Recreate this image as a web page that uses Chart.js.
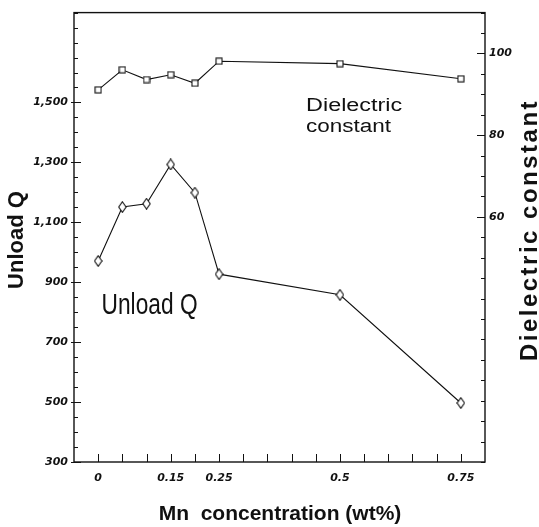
<!DOCTYPE html>
<html lang="en">
<head>
<meta charset="UTF-8">
<title>Unload Q and dielectric constant vs Mn concentration</title>
<script src="https://cdn.jsdelivr.net/npm/chart.js"></script>
<style>
  html, body { margin: 0; padding: 0; background: #fff; }
  #wrap { width: 539px; height: 527px; }
</style>
</head>
<body>
<div id="wrap"><canvas id="grafica" width="539" height="527"></canvas></div>
<script>
// data
const mnConc = [0, 0.05, 0.1, 0.15, 0.2, 0.25, 0.5, 0.75];          // wt%
const unloadQ = [971, 1151, 1162, 1293, 1199, 927, 858, 497];
const dielectric = [91.1, 96.0, 93.6, 94.8, 92.7, 98.1, 97.5, 93.8];

// tick labels that are printed
const xLabels = [0, 0.15, 0.25, 0.5, 0.75];
const qLabels = [300, 500, 700, 900, 1100, 1300, 1500];
const kLabels = [60, 80, 100];

// small marker images (hollow square / tall diamond)
function makeMarker(w, h, draw) {
  const c = document.createElement('canvas');
  c.width = w; c.height = h;
  const g = c.getContext('2d');
  g.fillStyle = '#fff'; g.strokeStyle = '#111'; g.lineWidth = 1.1;
  draw(g, w, h);
  return c;
}
const squareMark = makeMarker(8, 8, g => { g.fillRect(1, 1, 6, 6); g.strokeRect(1, 1, 6, 6); });
const diamondMark = makeMarker(9, 12, g => {
  g.beginPath(); g.moveTo(4.5, 0.7); g.lineTo(8.2, 6); g.lineTo(4.5, 11.3); g.lineTo(0.8, 6); g.closePath();
  g.fill(); g.stroke();
});

function stepTicks(from, to, step, dec) {
  const out = [];
  for (let v = from; v <= to + 1e-9; v += step) out.push({ value: +v.toFixed(dec) });
  return out;
}

const tickFont = { family: 'DejaVu Sans', size: 11, style: 'italic', weight: 'bold' };

// frame + inward tick marks
const frameTicks = {
  id: 'frameTicks',
  afterDraw(chart) {
    const ctx = chart.ctx, a = chart.chartArea;
    const sx = chart.scales.x, sq = chart.scales.y, sk = chart.scales.y2;
    ctx.save();
    ctx.strokeStyle = '#111';
    ctx.lineWidth = 1.4;
    ctx.strokeRect(a.left, a.top, a.right - a.left, a.bottom - a.top);
    ctx.lineWidth = 1;
    ctx.beginPath();
    sx.ticks.forEach(t => {
      const px = Math.round(sx.getPixelForValue(t.value)) + 0.5;
      ctx.moveTo(px, a.bottom); ctx.lineTo(px, a.bottom - 8);
    });
    sq.ticks.forEach(t => {
      const py = Math.round(sq.getPixelForValue(t.value)) + 0.5;
      const major = qLabels.includes(t.value);
      ctx.moveTo(a.left - (major ? 3 : 0), py); ctx.lineTo(a.left + (major ? 7 : 4), py);
    });
    sk.ticks.forEach(t => {
      const py = Math.round(sk.getPixelForValue(t.value)) + 0.5;
      const major = kLabels.includes(t.value);
      ctx.moveTo(a.right, py); ctx.lineTo(a.right - (major ? 8 : 4), py);
    });
    ctx.stroke();
    ctx.restore();
  }
};

// axis titles and in-plot labels
function stretchText(ctx, text, x, y, width) {
  const w = ctx.measureText(text).width;
  ctx.save();
  ctx.translate(x, y);
  ctx.scale(width / w, 1);
  ctx.fillText(text, 0, 0);
  ctx.restore();
}

const titles = {
  id: 'titles',
  afterDraw(chart) {
    const ctx = chart.ctx;
    const sx = chart.scales.x, sq = chart.scales.y, sk = chart.scales.y2;
    ctx.save();
    ctx.fillStyle = '#111';
    ctx.textBaseline = 'middle';

    ctx.textAlign = 'center';
    ctx.font = 'bold 21px "Liberation Sans"';
    ctx.fillText('Mn  concentration (wt%)', 280, 514);

    ctx.save();
    ctx.translate(17, 240);
    ctx.rotate(-Math.PI / 2);
    ctx.font = 'bold 22px "Liberation Sans"';
    ctx.fillText('Unload Q', 0, 0);
    ctx.restore();

    ctx.save();
    ctx.translate(530, 230);
    ctx.rotate(-Math.PI / 2);
    ctx.font = 'bold 24px "Liberation Sans"';
    ctx.letterSpacing = '2.5px';
    ctx.fillText('Dielectric constant', 0, 0);
    ctx.restore();

    // labels inside the plot, anchored on the scales
    ctx.textAlign = 'left';
    ctx.font = '29px "Liberation Sans"';
    stretchText(ctx, 'Unload Q', sx.getPixelForValue(0.007), sq.getPixelForValue(820), 96);

    ctx.font = '18px "Liberation Sans"';
    stretchText(ctx, 'Dielectric', sx.getPixelForValue(0.43), sk.getPixelForValue(87.2), 96);
    stretchText(ctx, 'constant', sx.getPixelForValue(0.43), sk.getPixelForValue(82.1), 85);
    ctx.restore();
  }
};

const ctx = document.getElementById('grafica').getContext('2d');
new Chart(ctx, {
  type: 'line',
  data: {
    datasets: [{
      label: 'Dielectric constant',
      data: mnConc.map((x, i) => ({ x: x, y: dielectric[i] })),
      yAxisID: 'y2',
      borderColor: '#111',
      borderWidth: 1.1,
      pointStyle: squareMark,
      tension: 0
    }, {
      label: 'Unload Q',
      data: mnConc.map((x, i) => ({ x: x, y: unloadQ[i] })),
      yAxisID: 'y',
      borderColor: '#111',
      borderWidth: 1.1,
      pointStyle: diamondMark,
      tension: 0
    }]
  },
  options: {
    responsive: false,
    animation: false,
    layout: { padding: { top: 12, left: 0, right: 0, bottom: 0 } },
    plugins: { legend: { display: false }, tooltip: { enabled: false } },
    scales: {
      x: {
        type: 'linear', min: -0.05, max: 0.8,
        afterBuildTicks: s => { s.ticks = stepTicks(0, 0.75, 0.05, 2); },
        afterFit: s => { s.height = 65; },
        grid: { display: false, drawTicks: false },
        border: { display: false },
        ticks: {
          autoSkip: false, maxRotation: 0, padding: 10, color: '#111', font: tickFont,
          callback: v => xLabels.includes(v) ? String(v) : ''
        }
      },
      y: {
        type: 'linear', position: 'left', min: 300, max: 1800,
        afterBuildTicks: s => { s.ticks = stepTicks(300, 1800, 50, 0); },
        afterFit: s => { s.width = 74; },
        grid: { display: false, drawTicks: false },
        border: { display: false },
        ticks: {
          autoSkip: false, padding: 6, color: '#111', font: tickFont,
          callback: v => qLabels.includes(v) ? v.toLocaleString('en-US') : ''
        }
      },
      y2: {
        type: 'linear', position: 'right', min: 0, max: 110,
        afterBuildTicks: s => { s.ticks = stepTicks(0, 110, 5, 0); },
        afterFit: s => { s.width = 54; },
        grid: { display: false, drawTicks: false },
        border: { display: false },
        ticks: {
          autoSkip: false, padding: 4, color: '#111', font: tickFont,
          callback: v => kLabels.includes(v) ? String(v) : ''
        }
      }
    }
  },
  plugins: [frameTicks, titles]
});
</script>
</body>
</html>
